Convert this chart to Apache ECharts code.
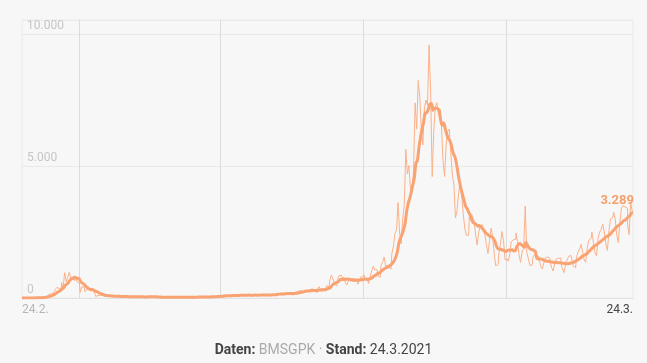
<!DOCTYPE html>
<html><head><meta charset="utf-8">
<script src="https://cdn.jsdelivr.net/npm/echarts@6/dist/echarts.min.js"></script>
<style>html,body{margin:0;padding:0;background:#f7f7f7;}#c{width:647px;height:363px;}</style>
</head><body><div id="c"></div>
<script>
// Daily new cases (Austria), by month
const feb2020 = [0, 2, 0, 1, 1, 3];
const mar2020 = [4,4,8,11,12,14,25,25,33,50, 67,115,143,151,205,240,314,405,355,390, 592,401,960,620,796,980,742,760,668,700, 620];
const apr2020 = [564,210,420,417,241,314,329,269,302,245, 212,62,90,106,140,99,82,75,60,54, 80,78,74,71,62,44,36,48,72,78];
const may2020 = [53,37,33,45,48,60,72,37,38,40, 23,35,41,60,73,54,45,20,40,33, 45,32,30,28,17,21,35,44,36,26, 31];
const jun2020 = [24,36,28,50,34,28,22,22,32,23, 38,55,32,27,20,36,42,38,46,30, 24,43,54,48,58,72,40,37,60,76];
const jul2020 = [70,97,103,104,70,60,75,101,126,116, 94,79,104,120,102,105,127,120,90,85, 100,111,130,131,98,92,108,126,144,130, 96];
const aug2020 = [108,79,128,165,134,158,200,163,114,139, 170,192,194,176,196,144,94,195,230,269, 298,278,218,231,253,288,313,325,349,249, 242];
const sep2020 = [211,341,425,328,356,298,284,471,420,664, 869,730,528,456,687,849,855,778,767,579, 492,656,714,744,760,722,660,520,626,798];
const oct2020 = [797,879,720,649,547,822,1029,1209,1064,1068, 834,785,1235,1346,1552,1209,1250,1155,1097,1677, 1958,2435,2571,3614,2456,2054,3012,3504,5627,4700, 5019];
const nov2020 = [4135,4000,4858,7390,6400,8240,7600,6400,5800,7200, 7500,7300,9586,7800,4600,6300,7200,7400,6974,6839, 6500,5200,4600,5800,6300,6400,5500,4658,4306,3036];
const dec2020 = [3296,3934,4385,3870,3209,2648,2376,2377,3140,3174, 3088,2925,2388,2011,2483,2713,2776,2549,2395,2017, 1686,2191,2650,2315,1683,1215,1264,1672,2040,2517, 2185];
const jan2021 = [1450,1468,1391,1635,2139,2209,2230,2463,2142,1636, 1350,1760,1879,3483,1731,1502,1231,1250,1550,1650, 1620,1560,1480,1200,1100,1330,1520,1560,1500,1380, 1150];
const feb2021 = [1020,1300,1480,1500,1520,1300,1100,960,1260,1440, 1580,1610,1480,1210,1150,1520,1740,1840,2030,1750, 1440,1350,1900,2190,2260,2500,2090,1720];
const mar2021 = [1600,2270,2500,2600,2800,2500,2050,1800,2550,3000, 3050,3250,3000,2400,2100,2850,3400,3500,3450,3400, 2800,2400,3600,3289];

const yTicks = [0, 5000, 10000];
const yMax = 10530;
const xTickLabels = ['24.2.', '24.3.'];
const gridMonths = ['1.4.', '1.7.', '1.10.', '1.1.'];

const daily = [].concat(feb2020, mar2020, apr2020, may2020, jun2020, jul2020, aug2020, sep2020, oct2020, nov2020, dec2020, jan2021, feb2021, mar2021);
const last = daily.length - 1;
const categories = daily.map(function (_, i) {
  const d = new Date(Date.UTC(2020, 1, 24 + i));
  return d.getUTCDate() + '.' + (d.getUTCMonth() + 1) + '.';
});
// 7-day (trailing) average of the daily values
const avg7 = daily.map(function (_, i) {
  const s = daily.slice(Math.max(0, i - 6), i + 1);
  return Math.round(s.reduce(function (a, b) { return a + b; }, 0) / s.length);
});
function fmt(v) { return String(v).replace(/\B(?=(\d{3})+(?!\d))/g, '.'); }

const chart = echarts.init(document.getElementById('c'), null, {renderer: 'canvas'});
chart.setOption({
  backgroundColor: '#f7f7f7',
  animation: false,
  textStyle: {fontFamily: 'Roboto'},
  grid: {left: 22, right: 14, top: 20, bottom: 65, show: true, borderColor: '#eaeaea', borderWidth: 1},
  title: {
    text: '{b|Daten:} {g|BMSGPK ·} {b|Stand:} {n|24.3.2021}',
    left: 'center', top: 338,
    textStyle: {
      fontSize: 14, fontFamily: 'Roboto', fontWeight: 'normal',
      rich: {
        b: {fontWeight: 'bold', color: '#444', fontSize: 14, fontFamily: 'Roboto'},
        g: {fontWeight: 'normal', color: '#aaa', fontSize: 14, fontFamily: 'Roboto'},
        n: {fontWeight: 'normal', color: '#444', fontSize: 14, fontFamily: 'Roboto'}
      }
    }
  },
  xAxis: {
    type: 'category', data: categories, boundaryGap: false,
    axisLine: {show: true, lineStyle: {color: '#e2e2e2'}},
    axisTick: {show: false},
    axisLabel: {
      interval: function (i) { return i === 0 || i === last; },
      formatter: function (v, i) { return i === 0 ? '{a|' + xTickLabels[0] + '}' : '{b|' + xTickLabels[1] + '}'; },
      rich: {a: {color: '#b5b5b5', fontSize: 12}, b: {color: '#444', fontSize: 12}},
      margin: 6, alignMinLabel: 'left', alignMaxLabel: 'right'
    },
    splitLine: {show: true, interval: function (i, v) { return gridMonths.indexOf(v) >= 0; }, lineStyle: {color: '#dcdcdc', width: 1}}
  },
  yAxis: {
    type: 'value', min: yTicks[0], max: yMax, interval: yTicks[1] - yTicks[0],
    axisLine: {show: false}, axisTick: {show: false},
    splitLine: {lineStyle: {color: '#e9e9e9'}},
    axisLabel: {
      inside: true, margin: 5, color: '#c6c6c6', fontSize: 12, verticalAlign: 'bottom', padding: [0, 0, 2, 0],
      formatter: function (v) { return yTicks.indexOf(v) >= 0 ? fmt(v) : ''; }
    }
  },
  series: [
    {
      name: 'Neuinfektionen', type: 'line', data: daily, step: 'middle', symbol: 'none',
      lineStyle: {width: 1, color: '#fbb189'}, z: 2,
      markPoint: {
        symbol: 'circle', symbolSize: 0,
        label: {show: true, position: 'top', distance: 4, align: 'right', offset: [1, 0], color: '#f6a06c', fontWeight: 'bold', fontSize: 13, fontFamily: 'Roboto', formatter: fmt(daily[last])},
        data: [{coord: [last, daily[last]]}]
      }
    },
    {
      name: '7-Tage-Schnitt', type: 'line', data: avg7, smooth: 0.3, symbol: 'none',
      lineStyle: {width: 3, color: '#f9a272'}, z: 3
    }
  ]
});
</script></body></html>
